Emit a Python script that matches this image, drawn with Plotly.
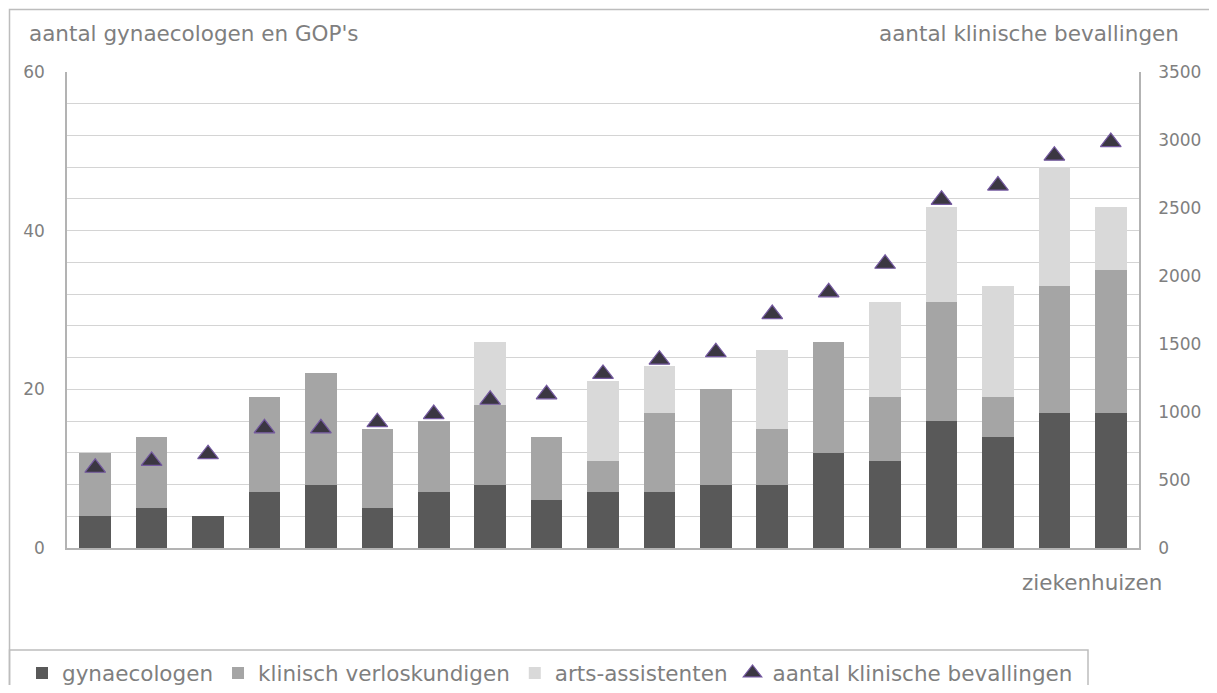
import plotly.graph_objects as go

# ---- data ----
ziekenhuizen = [f"Z{i}" for i in range(1, 20)]
gynaecologen = [4, 5, 4, 7, 8, 5, 7, 8, 6, 7, 7, 8, 8, 12, 11, 16, 14, 17, 17]
klinisch_verloskundigen = [8, 9, 0, 12, 14, 10, 9, 10, 8, 4, 10, 12, 7, 14, 8, 15, 5, 16, 18]
arts_assistenten = [0, 0, 0, 0, 0, 0, 0, 8, 0, 10, 6, 0, 10, 0, 12, 12, 14, 15, 8]
bevallingen = [590, 640, 690, 880, 880, 925, 985, 1090, 1130, 1280, 1385, 1440,
               1720, 1880, 2090, 2560, 2665, 2885, 2985]

left_ticks = [0, 20, 40, 60]
right_ticks = [0, 500, 1000, 1500, 2000, 2500, 3000, 3500]

FONT = "DejaVu Sans"
TXT = "#7f7f7f"

OFF = 8  # default page body margin
W, H = 1217 - 2 * OFF, 693 - 2 * OFF
PL, PR, PT, PB = 67, 1139, 72, 548  # plot area in page pixels
ML, MR, MT, MB = PL - OFF, W - (PR - OFF), PT - OFF, H - (PB - OFF)
PW = PR - PL
PH = PB - PT


def px_x(x):
    return (x - PL) / PW


def px_y(y):
    return (PB - y) / PH


fig = go.Figure()
fig.add_bar(x=ziekenhuizen, y=gynaecologen, name="gynaecologen",
            marker=dict(color="#595959", line=dict(width=0)))
fig.add_bar(x=ziekenhuizen, y=klinisch_verloskundigen, name="klinisch verloskundigen",
            marker=dict(color="#a5a5a5", line=dict(width=0)))
fig.add_bar(x=ziekenhuizen, y=arts_assistenten, name="arts-assistenten",
            marker=dict(color="#d9d9d9", line=dict(width=0)))
fig.add_scatter(x=ziekenhuizen, y=bevallingen, name="aantal klinische bevallingen",
                yaxis="y2", mode="markers",
                marker=dict(symbol="triangle-up", size=18, color="#3b3742",
                            line=dict(color="#7459a0", width=1.2)))

fig.update_layout(
    width=W, height=H,
    margin=dict(l=ML, r=MR, t=MT, b=MB, autoexpand=False),
    barmode="stack", bargap=0.44,
    paper_bgcolor="white", plot_bgcolor="white",
    font=dict(family=FONT, size=17, color=TXT),
    showlegend=True,
    legend=dict(orientation="h", x=px_x(22), xanchor="left",
                y=px_y(673), yanchor="middle",
                font=dict(family=FONT, size=21.5, color=TXT),
                bgcolor="rgba(0,0,0,0)", borderwidth=0,
                itemwidth=30, traceorder="normal"),
    xaxis=dict(type="category", range=[-0.5, len(ziekenhuizen) - 0.5],
               showticklabels=False, showgrid=False, ticks="",
               showline=True, linecolor="#b3b3b3", linewidth=1.5,
               zeroline=False, automargin=False),
    yaxis=dict(range=[0, 60], tickvals=left_ticks, ticks="",
               showgrid=True, gridcolor="#d4d4d4", gridwidth=1.2,
               minor=dict(dtick=4, showgrid=True, gridcolor="#d4d4d4", gridwidth=1.2),
               showline=True, linecolor="#b3b3b3", linewidth=1.5,
               zeroline=False, ticklabelstandoff=17, automargin=False,
               tickfont=dict(family=FONT, size=17, color=TXT)),
    yaxis2=dict(range=[0, 3500], tickvals=right_ticks, overlaying="y", side="right",
                showgrid=False, ticks="", showline=True, linecolor="#b3b3b3",
                linewidth=1.5, zeroline=False, ticklabelstandoff=14, automargin=False,
                tickfont=dict(family=FONT, size=17, color=TXT)),
)

# outer frame and legend box
fig.add_shape(type="rect", xref="paper", yref="paper",
              x0=px_x(9.5), x1=px_x(1260), y0=px_y(740), y1=px_y(9.5),
              line=dict(color="#bdbdbd", width=1.5), fillcolor="rgba(0,0,0,0)", layer="below")
fig.add_shape(type="rect", xref="paper", yref="paper",
              x0=px_x(9.5), x1=px_x(1088), y0=px_y(740), y1=px_y(650),
              line=dict(color="#bdbdbd", width=1.5), fillcolor="rgba(0,0,0,0)", layer="below")

fig.add_annotation(text="aantal gynaecologen en GOP's", xref="paper", yref="paper",
                   x=px_x(27), y=px_y(33), xanchor="left", yanchor="middle",
                   showarrow=False, font=dict(family=FONT, size=21.5, color=TXT))
fig.add_annotation(text="aantal klinische bevallingen", xref="paper", yref="paper",
                   x=px_x(1181), y=px_y(33), xanchor="right", yanchor="middle",
                   showarrow=False, font=dict(family=FONT, size=21.5, color=TXT))
fig.add_annotation(text="ziekenhuizen", xref="paper", yref="paper",
                   x=px_x(1164), y=px_y(582), xanchor="right", yanchor="middle",
                   showarrow=False, font=dict(family=FONT, size=21.5, color=TXT))

fig.write_html("out.html")
